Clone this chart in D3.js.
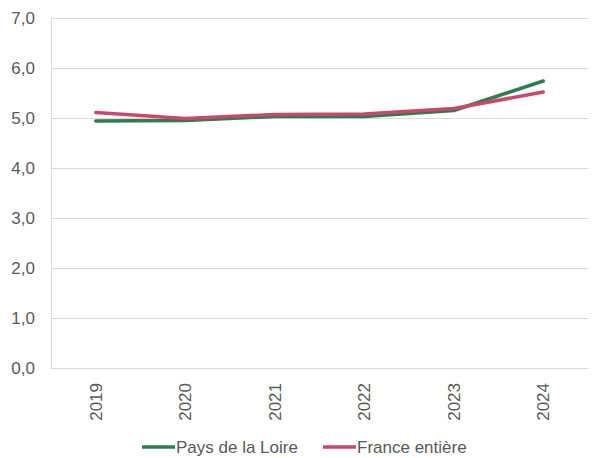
<!DOCTYPE html>
<html>
<head>
<meta charset="utf-8">
<script src="https://cdn.jsdelivr.net/npm/d3@7"></script>
<style>
  body { margin: 0; background: #fff; }
  text { font-family: "Liberation Sans", Arial, sans-serif; fill: #595959; }
</style>
</head>
<body>
<div id="root"></div>
<script>
// data
var years = ['2019', '2020', '2021', '2022', '2023', '2024'];
var paysDeLaLoire = [4.94, 4.95, 5.03, 5.03, 5.15, 5.74];
var franceEntiere = [5.11, 4.99, 5.07, 5.08, 5.19, 5.52];
var yTicks = [0, 1, 2, 3, 4, 5, 6, 7];
var seriesNames = ['Pays de la Loire', 'France entière'];
var seriesColors = ['#2e7d4f', '#c9496b'];

var w = 600, h = 458;
var padLeft = 51, padRight = 588, padTop = 18, padBottom = 368;

var svg = d3.select('#root').append('svg')
  .attr('width', w)
  .attr('height', h);

var xScale = d3.scaleBand()
  .domain(years)
  .range([padLeft, padRight]);

var yScale = d3.scaleLinear()
  .domain([0, 7])
  .range([padBottom, padTop]);

var fmt = function(d) { return d.toFixed(1).replace('.', ','); };

// gridlines
svg.append('g')
  .selectAll('line')
  .data(yTicks).enter()
  .append('line')
  .attr('x1', padLeft)
  .attr('x2', padRight)
  .attr('y1', function(d) { return yScale(d) + 0.5; })
  .attr('y2', function(d) { return yScale(d) + 0.5; })
  .attr('stroke', '#d9d9d9')
  .attr('stroke-width', 1);

// left axis line
svg.append('line')
  .attr('x1', padLeft + 0.5).attr('x2', padLeft + 0.5)
  .attr('y1', padTop).attr('y2', padBottom)
  .attr('stroke', '#d9d9d9');

// y labels
var yAxis = d3.axisLeft(yScale).tickValues(yTicks).tickFormat(fmt).tickSize(0).tickPadding(16);
var yg = svg.append('g').attr('transform', 'translate(' + padLeft + ',0)').call(yAxis);
yg.select('.domain').remove();
yg.selectAll('text').style('font-size', '17px').attr('fill', '#595959')
  .attr('font-family', '"Liberation Sans", Arial, sans-serif');

// x labels rotated
var xAxis = d3.axisBottom(xScale).tickSize(0).tickPadding(0);
var xg = svg.append('g').attr('transform', 'translate(0,' + padBottom + ')').call(xAxis);
xg.select('.domain').remove();
xg.selectAll('text')
  .style('font-size', '17px')
  .attr('fill', '#595959')
  .attr('font-family', '"Liberation Sans", Arial, sans-serif')
  .attr('text-anchor', 'end')
  .attr('y', 0)
  .attr('dy', '0.35em')
  .attr('transform', 'translate(0,15) rotate(-90)');

// lines
var line = d3.line()
  .x(function(d, i) { return xScale(years[i]) + xScale.bandwidth() / 2; })
  .y(function(d) { return yScale(d); });

[paysDeLaLoire, franceEntiere].forEach(function(s, i) {
  svg.append('path')
    .datum(s)
    .attr('d', line)
    .attr('fill', 'none')
    .attr('stroke', seriesColors[i])
    .attr('stroke-width', 3.5)
    .attr('stroke-linecap', 'round')
    .attr('stroke-linejoin', 'round');
});

// legend
var legendX = [142, 323];
var legend = svg.append('g').attr('transform', 'translate(0,447)');
seriesNames.forEach(function(name, i) {
  legend.append('line')
    .attr('x1', legendX[i]).attr('x2', legendX[i] + 33)
    .attr('y1', 0).attr('y2', 0)
    .attr('stroke', seriesColors[i])
    .attr('stroke-width', 3.5);
  legend.append('text')
    .attr('x', legendX[i] + 34)
    .attr('y', 6)
    .style('font-size', '17px')
    .text(name);
});
</script>
</body>
</html>
